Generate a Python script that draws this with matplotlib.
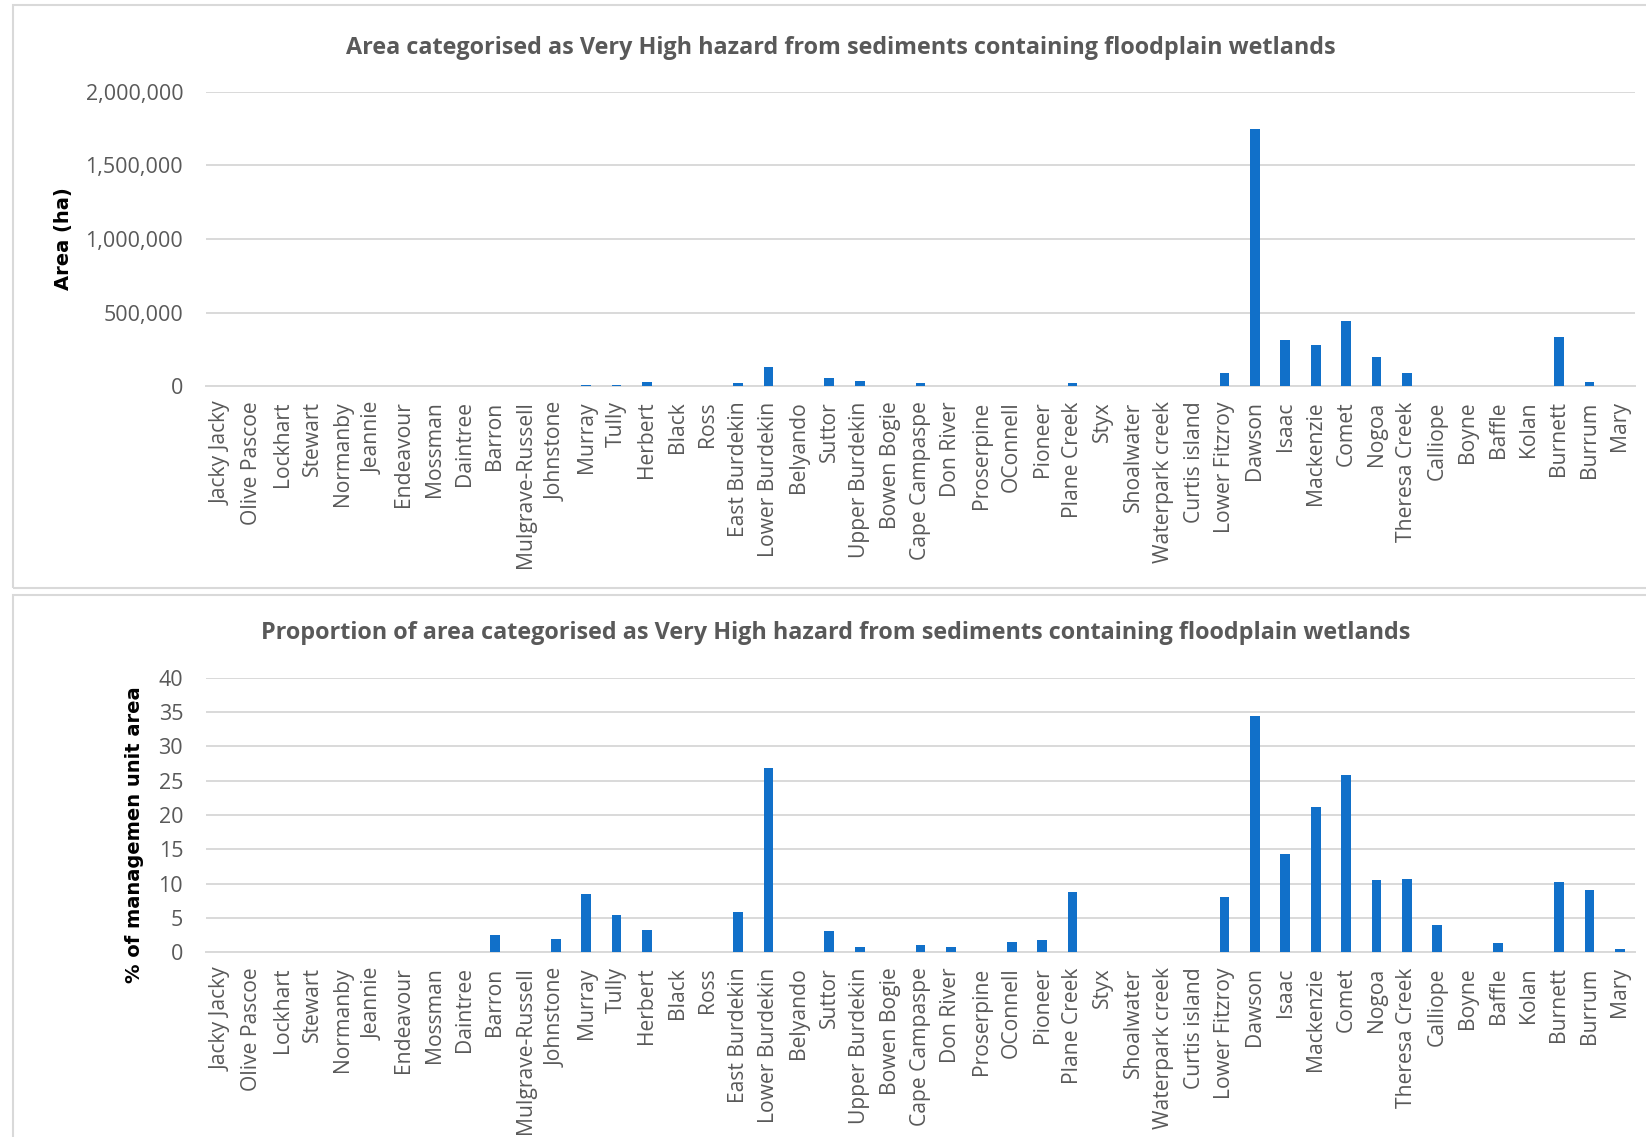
import numpy as np
import matplotlib
matplotlib.use("Agg")
import matplotlib.pyplot as plt
from matplotlib.patches import Rectangle

# management units (same order in both charts)
units = ["Jacky Jacky", "Olive Pascoe", "Lockhart", "Stewart", "Normanby", "Jeannie",
         "Endeavour", "Mossman", "Daintree", "Barron", "Mulgrave-Russell", "Johnstone",
         "Murray", "Tully", "Herbert", "Black", "Ross", "East Burdekin", "Lower Burdekin",
         "Belyando", "Suttor", "Upper Burdekin", "Bowen Bogie", "Cape Campaspe", "Don River",
         "Proserpine", "OConnell", "Pioneer", "Plane Creek", "Styx", "Shoalwater",
         "Waterpark creek", "Curtis island", "Lower Fitzroy", "Dawson", "Isaac", "Mackenzie",
         "Comet", "Nogoa", "Theresa Creek", "Calliope", "Boyne", "Baffle", "Kolan",
         "Burnett", "Burrum", "Mary"]

# area very high hazard (ha)
area_ha = [0, 0, 0, 0, 0, 0,
           0, 0, 0, 3000, 0, 1500,
           4000, 4000, 30000, 0, 0, 18000, 126000,
           0, 53000, 32000, 0, 18000, 500,
           0, 2000, 500, 18000, 0, 0,
           0, 0, 88000, 1747000, 315000, 276000,
           440000, 195000, 88000, 2000, 0, 1500, 0,
           336000, 27000, 3000]

# % of management unit area
pct_area = [0, 0, 0, 0, 0, 0,
            0, 0, 0, 2.5, 0, 1.9,
            8.4, 5.35, 3.2, 0, 0, 5.8, 26.9,
            0, 3.1, 0.8, 0, 1.0, 0.75,
            0, 1.45, 1.75, 8.7, 0, 0,
            0, 0, 8.05, 34.5, 14.3, 21.1,
            25.8, 10.45, 10.65, 3.9, 0, 1.3, 0,
            10.2, 9.1, 0.47]

area_ticks = [0, 500000, 1000000, 1500000, 2000000]
pct_ticks = [0, 5, 10, 15, 20, 25, 30, 35, 40]

bar_col = "#1170c9"
grid_col = "#d9d9d9"
txt_col = "#595959"

fig = plt.figure(figsize=(16.46, 11.37), dpi=100)

# chart borders (Excel style)
fig.patches.append(Rectangle((0.0079, 0.4828), 1.0, 0.5128, transform=fig.transFigure,
                             fill=False, edgecolor=grid_col, lw=1.5))
fig.patches.append(Rectangle((0.0079, -0.02), 1.0, 0.4967, transform=fig.transFigure,
                             fill=False, edgecolor=grid_col, lw=1.5))

ax1 = fig.add_axes([0.1252, 0.6605, 0.8681, 0.2586])
ax2 = fig.add_axes([0.1252, 0.1627, 0.8681, 0.2410])

x = np.arange(len(units))


def style(ax, vals, ticks, labels):
    ax.bar(x, vals, width=0.32, color=bar_col, zorder=3)
    ax.set_xlim(-0.5, len(units) - 0.5)
    ax.set_ylim(ticks[0], ticks[-1])
    ax.set_yticks(ticks)
    ax.set_yticklabels(labels, fontfamily="Open Sans", fontsize=15.5, color=txt_col)
    ax.set_xticks(x)
    ax.set_xticklabels(units, rotation=90, fontfamily="Open Sans", fontsize=15.2,
                       color=txt_col)
    ax.tick_params(axis="both", length=0)
    ax.tick_params(axis="y", pad=16.5)
    ax.tick_params(axis="x", pad=11)
    ax.grid(axis="y", color=grid_col, lw=1.4, zorder=0)
    for s in ["top", "right", "left"]:
        ax.spines[s].set_visible(False)
    ax.spines["bottom"].set_color(grid_col)
    ax.spines["bottom"].set_linewidth(1.4)


style(ax1, area_ha, area_ticks, [f"{t:,}" for t in area_ticks])
style(ax2, pct_area, pct_ticks, [str(t) for t in pct_ticks])

fig.text(0.511, 1 - 48 / 1137, "Area categorised as Very High hazard from sediments containing floodplain wetlands",
         ha="center", va="center", fontfamily="Open Sans", fontweight="bold",
         fontsize=16.8, color=txt_col)
fig.text(0.508, 1 - 633 / 1137, "Proportion of area categorised as Very High hazard from sediments containing floodplain wetlands",
         ha="center", va="center", fontfamily="Open Sans", fontweight="bold",
         fontsize=16.8, color=txt_col)

fig.text(63 / 1646, 1 - 239 / 1137, "Area (ha)", rotation=90, ha="center", va="center",
         fontfamily="DejaVu Sans", fontweight="bold", fontsize=14, color="black")
fig.text(134 / 1646, 1 - 835 / 1137, "% of managemen unit area", rotation=90,
         ha="center", va="center", fontfamily="DejaVu Sans", fontweight="bold",
         fontsize=14, color="black")

fig.savefig("out.png", dpi=100)
